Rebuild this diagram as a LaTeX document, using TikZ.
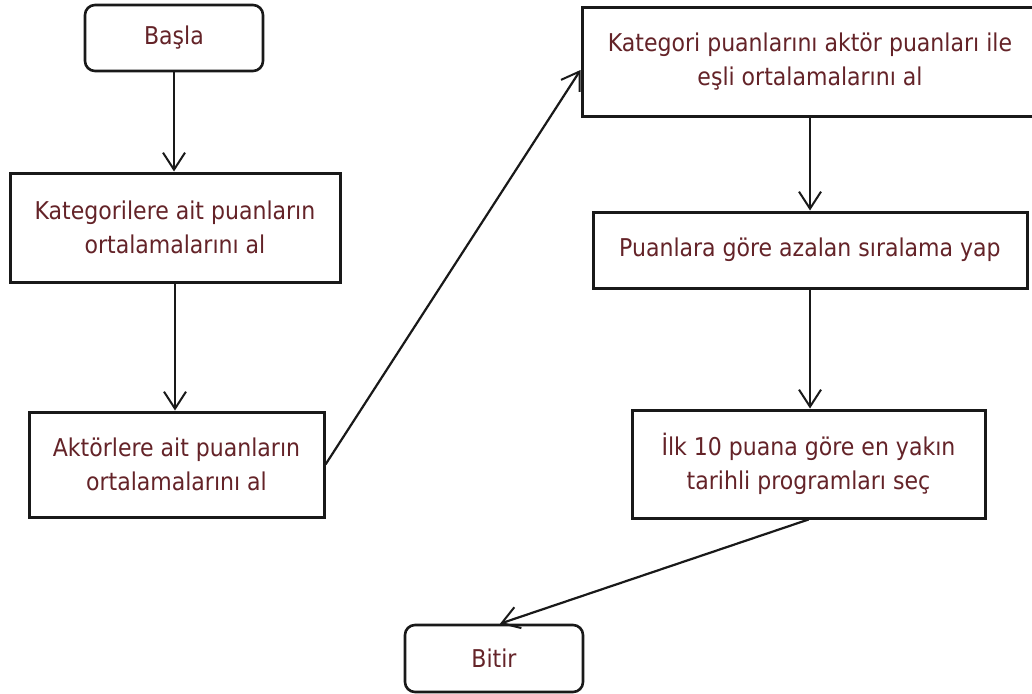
\documentclass[tikz,border=0pt]{standalone}
\usepackage{fontspec}
\setmainfont{DejaVu Sans Condensed}
\usetikzlibrary{arrows.meta}
\definecolor{txt}{RGB}{100,35,40}
\tikzset{
  procbox/.style={draw=black!90, line width=3pt, fill=white, text=txt, align=center,
    inner sep=0pt, font=\fontsize{24.5}{34}\selectfont},
  termbox/.style={procbox, rounded corners=10pt, line width=2.6pt},
  arr/.style={draw=black!90, line width=2.2pt,
    -{Straight Barb[length=17pt,width=22pt,line width=2pt]}}
}
\begin{document}
\begin{tikzpicture}[x=1pt,y=-1pt]
\useasboundingbox (0,0) rectangle (1032,693);
\node[termbox, minimum width=178pt, minimum height=66pt] (basla) at (174,38) {Başla};
\node[procbox, minimum width=330pt, minimum height=109pt] (b2) at (175,227.5)
  {Kategorilere ait puanların\\ortalamalarını al};
\node[procbox, minimum width=295pt, minimum height=105pt] (b3) at (176.5,464.5)
  {Aktörlere ait puanların\\ortalamalarını al};
\node[procbox, minimum width=456pt, minimum height=108pt] (b4) at (810,62)
  {Kategori puanlarını aktör puanları ile\\eşli ortalamalarını al};
\node[procbox, minimum width=434pt, minimum height=76pt] (b5) at (810,250)
  {Puanlara göre azalan sıralama yap};
\node[procbox, minimum width=353pt, minimum height=108pt] (b6) at (808.5,464)
  {İlk 10 puana göre en yakın\\ tarihli programları seç};
\node[termbox, minimum width=178pt, minimum height=67pt] (bitir) at (494,658.5) {Bitir};

\draw[arr] (basla.south) -- (basla.south |- b2.north);
\draw[arr] (b2.south) -- (b2.south |- b3.north);
\draw[arr] (b3.east) -- ([yshift=-8pt]b4.west);
\draw[arr] (b4.south) -- (b4.south |- b5.north);
\draw[arr] (b5.south) -- (b5.south |- b6.north);
\draw[arr] (b6.south) -- ([xshift=6pt]bitir.north);
\end{tikzpicture}
\end{document}
